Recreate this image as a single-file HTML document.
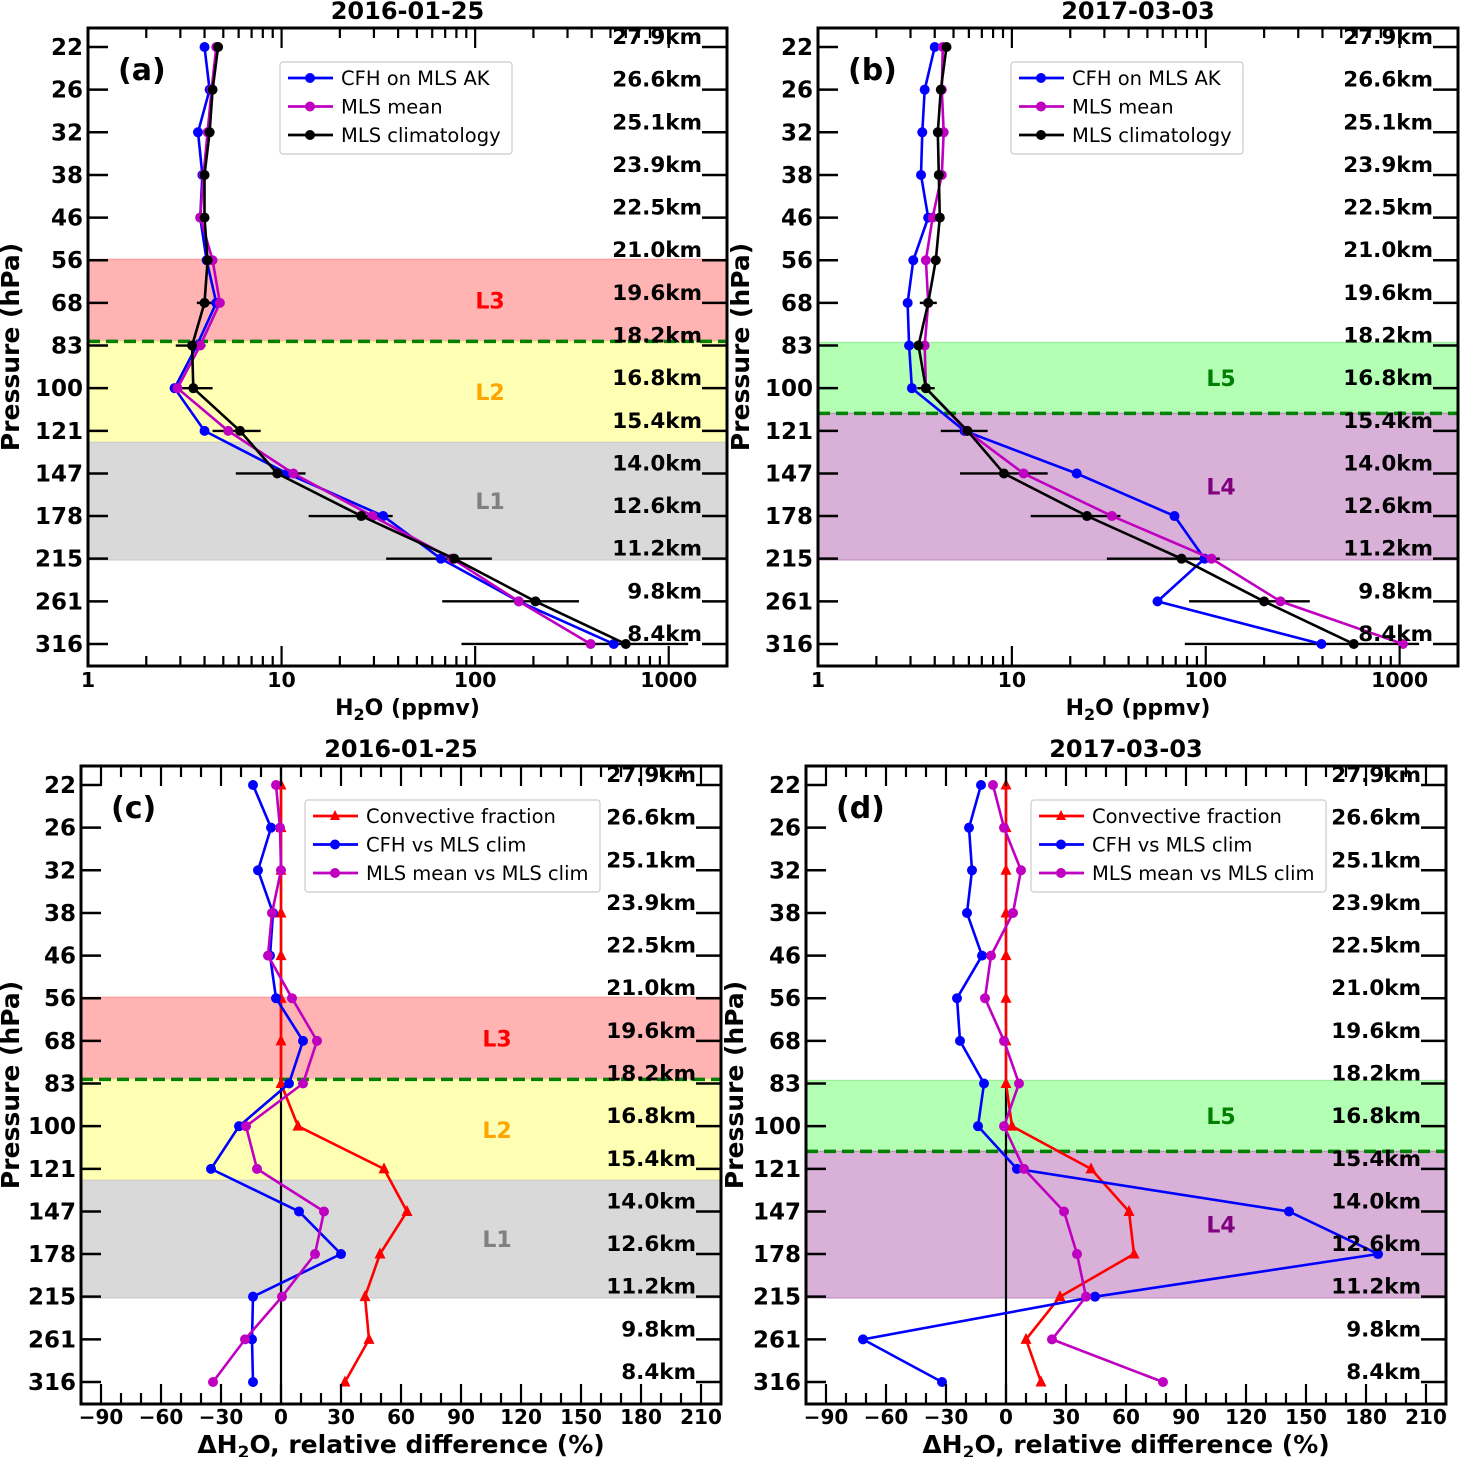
<!DOCTYPE html>
<html><head><meta charset="utf-8">
<style>
html,body{margin:0;padding:0;background:#fff;}
svg{display:block;font-family:"DejaVu Sans","Liberation Sans",sans-serif;}
</style></head>
<body>
<svg id="fig" width="1460" height="1457" viewBox="0 0 1460 1457" xmlns="http://www.w3.org/2000/svg"></svg>
<script>
// ---- data ----
const pressures = [21.54,26.1,31.62,38.31,46.42,56.23,68.13,82.54,100,121.2,146.8,177.8,215.4,261,316.2];
const pressureLabels = ["22","26","32","38","46","56","68","83","100","121","147","178","215","261","316"];
const kmLabels = ["27.9km","26.6km","25.1km","23.9km","22.5km","21.0km","19.6km","18.2km","16.8km","15.4km","14.0km","12.6km","11.2km","9.8km","8.4km"];
// panel a (ppmv)
const aCFH  = [4.0,4.25,3.7,3.9,3.8,4.1,4.6,3.65,2.8,4.0,10.7,33.5,66.5,168,520];
const aMean = [4.6,4.35,4.15,3.95,3.8,4.4,4.8,3.8,2.9,5.3,11.5,29.5,76,168,395];
const aClim = [4.7,4.4,4.25,4.0,4.0,4.15,4.0,3.45,3.5,6.1,9.5,25.8,78,205,600];
const aErrLo = [4.55,4.25,4.1,3.85,3.85,4.0,3.65,2.84,3.0,4.4,5.8,13.8,34.7,67.6,85];
const aErrHi = [4.85,4.55,4.4,4.15,4.15,4.3,4.4,4.05,4.4,7.8,13.3,37.5,122,344,1260];
// panel b (ppmv)
const bCFH  = [4.0,3.55,3.45,3.4,3.7,3.1,2.9,2.95,3.05,5.7,21.6,69,98.5,56.4,395];
const bMean = [4.4,4.35,4.45,4.35,3.9,3.6,3.7,3.55,3.6,5.85,11.5,32.8,107,243,1040];
const bClim = [4.6,4.3,4.15,4.2,4.25,4.05,3.7,3.3,3.6,5.9,9.1,24.4,75,200,580];
const bErrLo = [4.45,4.15,4.0,4.05,4.1,3.9,3.35,3.1,3.25,4.3,5.4,12.5,30.9,82,78];
const bErrHi = [4.75,4.45,4.3,4.35,4.4,4.2,4.1,3.5,4.0,7.5,15.3,36.3,118,344,1260];
// panel c (%)
const cConv = [0,0,0,0,0,0,0,0,8.5,51.5,63,49.5,42,44,32];
const cCFH  = [-14,-5,-11.5,-4,-5.5,-2.5,11,4,-21,-35,9,30,-14,-14.5,-14];
const cMean = [-2.5,-0.5,0,-4.5,-6.5,5.5,18,11,-17.5,-12,21.5,17,0.5,-18,-34];
// panel d (%)
const dConv = [0,0,0,0,0,0,0,0,3,42.5,61.5,64,27,10,17.5];
const dCFH  = [-12.5,-18.5,-17,-19.5,-12,-24.5,-23,-11,-14,5.5,141.5,186,44.5,-71.5,-32];
const dMean = [-6.5,-1,7.5,3.5,-7.5,-10.5,-1,6.5,-1,9,29,35.5,40,23,78.5];
const logTicks = [1,10,100,1000];
const linTicks = [-90,-60,-30,0,30,60,90,120,150,180,210];

const NS="http://www.w3.org/2000/svg";
const svg=document.getElementById('fig');
function el(tag,attrs,parent,text){const e=document.createElementNS(NS,tag);for(const k in attrs)e.setAttribute(k,attrs[k]);if(text!==undefined)e.textContent=text;(parent||svg).appendChild(e);return e;}

const STEP=42.64;
function makeY(y22){return p=>y22+(Math.log10(p)-Math.log10(21.54))*12*STEP;}

function panel(cfg){
  const g=el('g',{});
  
  
  const {x0,x1,y0,y1}=cfg;
  const Y=makeY(cfg.y22);
  let X;
  if(cfg.log){X=v=>x0+(x1-x0)*(Math.log10(v)-0)/Math.log10(2000);}
  else{X=v=>x0+(x1-x0)*(v-(-100))/320;}
  cfg.bands.forEach(b=>{
    const r=el('rect',{x:x0,y:Y(b.p0),width:x1-x0,height:Y(b.p1)-Y(b.p0),fill:b.fill,stroke:b.stroke,'stroke-width':1.2},g);
    
    
    const t=el('text',{x:cfg.labelX,y:(Y(b.p0)+Y(b.p1))/2+8,'text-anchor':'middle','font-size':22,'font-weight':'bold',fill:b.color},g,b.label);
    
    
  });
  const dl=el('line',{x1:x0,x2:x1,y1:Y(cfg.dashP),y2:Y(cfg.dashP),stroke:'#008000','stroke-width':3.5,'stroke-dasharray':'12,6'},g);
  
  
  if(!cfg.log){const z=el('line',{x1:X(0),x2:X(0),y1:y0,y2:y1,stroke:'#000','stroke-width':2.2},g);
    }
  if(cfg.errLo){cfg.errLo.forEach((lo,i)=>{const e=el('line',{x1:X(lo),x2:X(cfg.errHi[i]),y1:Y(pressures[i]),y2:Y(pressures[i]),stroke:'#000','stroke-width':2.4},g);
    });}
  cfg.series.forEach(s=>{
    const pts=s.vals.map((v,i)=>X(v).toFixed(1)+','+Y(pressures[i]).toFixed(1)).join(' ');
    const pl=el('polyline',{points:pts,fill:'none',stroke:s.color,'stroke-width':2.6},g);
    
    
    s.vals.forEach((v,i)=>{
      const cx=X(v),cy=Y(pressures[i]);let m;
      if(s.tri){m=el('polygon',{points:`${cx},${cy-6.5} ${cx-5.5},${cy+4.5} ${cx+5.5},${cy+4.5}`,fill:s.color},g);}
      else{m=el('circle',{cx:cx,cy:cy,r:5,fill:s.color},g);}
      
      
    });
  });
  const fr=el('rect',{x:x0,y:y0,width:x1-x0,height:y1-y0,fill:'none',stroke:'#000','stroke-width':3},g);
  
  pressures.forEach((p,i)=>{
    const y=Y(p);
    el('line',{x1:x0,x2:x0+20,y1:y,y2:y,stroke:'#000','stroke-width':2.5},g);
    el('line',{x1:x1-25,x2:x1,y1:y,y2:y,stroke:'#000','stroke-width':2.5},g);
    const t=el('text',{x:x0-5,y:y+8,'text-anchor':'end','font-size':23,'font-weight':'bold'},g,pressureLabels[i]);
    
    const k=el('text',{x:x1-25,y:y-3,'text-anchor':'end','font-size':21.5,'font-weight':'bold'},g,kmLabels[i]);
    
  });
  if(cfg.log){
    for(let d=0;d<4;d++){for(let m=1;m<10;m++){const v=m*Math.pow(10,d);if(v>2000)break;const x=X(v);const L=m===1?20:10;
      el('line',{x1:x,x2:x,y1:y1,y2:y1-L,stroke:'#000','stroke-width':2.2},g);
      el('line',{x1:x,x2:x,y1:y0,y2:y0+L,stroke:'#000','stroke-width':2.2},g);}}
    logTicks.forEach(v=>{const t=el('text',{x:X(v),y:y1+21,'text-anchor':'middle','font-size':20.5,'font-weight':'bold'},g,String(v));
      });
  } else {
    for(let v=-100;v<=220;v+=10){const x=X(v);const L=(v%30===0)?20:11;
      el('line',{x1:x,x2:x,y1:y1,y2:y1-L,stroke:'#000','stroke-width':2.2},g);
      el('line',{x1:x,x2:x,y1:y0,y2:y0+L,stroke:'#000','stroke-width':2.2},g);}
    linTicks.forEach(v=>{const t=el('text',{x:X(v),y:y1+20,'text-anchor':'middle','font-size':20,'font-weight':'bold'},g,String(v).replace('-','\u2212'));
      });
  }
  const ti=el('text',{x:(x0+x1)/2,y:y0-9,'text-anchor':'middle','font-size':24,'font-weight':'bold'},g,cfg.title);
  
  const xt=el('text',{x:(x0+x1)/2,y:y1+49,'text-anchor':'middle','font-size':cfg.log?22:25,'font-weight':'bold'},g);
  
  if(cfg.log){xt.innerHTML='H<tspan font-size="16" dy="5">2</tspan><tspan dy="-5">O (ppmv)</tspan>';}
  else{xt.innerHTML='ΔH<tspan font-size="17" dy="5">2</tspan><tspan dy="-5">O, relative difference (%)</tspan>';}
  const yt=el('text',{x:0,y:0,'text-anchor':'middle','font-size':25,'font-weight':'bold',transform:`translate(${cfg.ytX},${(y0+y1)/2}) rotate(-90)`},g,'Pressure (hPa)');
  
  const pl=el('text',{x:x0+30,y:y0+52,'font-size':30,'font-weight':'bold'},g,'('+cfg.id+')');
  
  const lg=el('g',{},g);
  
  el('rect',{x:cfg.legX,y:cfg.legY,width:cfg.legW,height:92,rx:3,fill:'#fff','fill-opacity':0.85,stroke:'#ccc','stroke-width':1.2},lg);
  cfg.series.forEach((s,i)=>{
    const yy=cfg.legY+16+i*28.5;const lx=cfg.legX+8;
    el('line',{x1:lx,x2:lx+45,y1:yy,y2:yy,stroke:s.color,'stroke-width':2.8},lg);
    if(s.tri)el('polygon',{points:`${lx+22},${yy-6} ${lx+17},${yy+4} ${lx+27},${yy+4}`,fill:s.color},lg);
    else el('circle',{cx:lx+22,cy:yy,r:5,fill:s.color},lg);
    const t=el('text',{x:lx+53,y:yy+7,'font-size':19.5},lg,s.label);
    
  });
}

const bandsAC=[{p0:56.0,p1:81.0,fill:'#ffb3b3',stroke:'#ff9999',label:'L3',color:'#ff0000'},
  {p0:81.0,p1:127.6,fill:'#ffffb3',stroke:'#eeee99',label:'L2',color:'#ffa500'},
  {p0:127.6,p1:216.6,fill:'#d9d9d9',stroke:'#cccccc',label:'L1',color:'#808080'}];
const bandsBD=[{p0:81.4,p1:112,fill:'#b3ffb3',stroke:'#99ee99',label:'L5',color:'#008000'},
  {p0:112,p1:216.6,fill:'#d8b0d8',stroke:'#c090c0',label:'L4',color:'#800080'}];
const sAB=(c,m,k)=>[{name:'cfh',vals:c,color:'#0000ff',label:'CFH on MLS AK'},{name:'mls-mean',vals:m,color:'#c000c0',label:'MLS mean'},{name:'mls-clim',vals:k,color:'#000000',label:'MLS climatology'}];
const sCD=(r,c,m)=>[{name:'convective',vals:r,color:'#ff0000',label:'Convective fraction',tri:true},{name:'cfh-vs-clim',vals:c,color:'#0000ff',label:'CFH vs MLS clim'},{name:'mean-vs-clim',vals:m,color:'#c000c0',label:'MLS mean vs MLS clim'}];

panel({id:'a',log:true,x0:88,x1:727,y0:28,y1:666,y22:47,title:'2016-01-25',bands:bandsAC,dashP:81.0,labelX:490,series:sAB(aCFH,aMean,aClim),errLo:aErrLo,errHi:aErrHi,legX:280,legY:62,legW:232,ytX:19});
panel({id:'b',log:true,x0:818,x1:1458,y0:28,y1:666,y22:47,title:'2017-03-03',bands:bandsBD,dashP:112,labelX:1221,series:sAB(bCFH,bMean,bClim),errLo:bErrLo,errHi:bErrHi,legX:1011,legY:62,legW:232,ytX:749});
panel({id:'c',log:false,x0:81,x1:721,y0:766,y1:1404,y22:785,title:'2016-01-25',bands:bandsAC,dashP:81.0,labelX:497,series:sCD(cConv,cCFH,cMean),legX:305,legY:800,legW:295,ytX:19});
panel({id:'d',log:false,x0:806,x1:1446,y0:766,y1:1404,y22:785,title:'2017-03-03',bands:bandsBD,dashP:112,labelX:1221,series:sCD(dConv,dCFH,dMean),legX:1031,legY:800,legW:295,ytX:743});
</script>
</body></html>
